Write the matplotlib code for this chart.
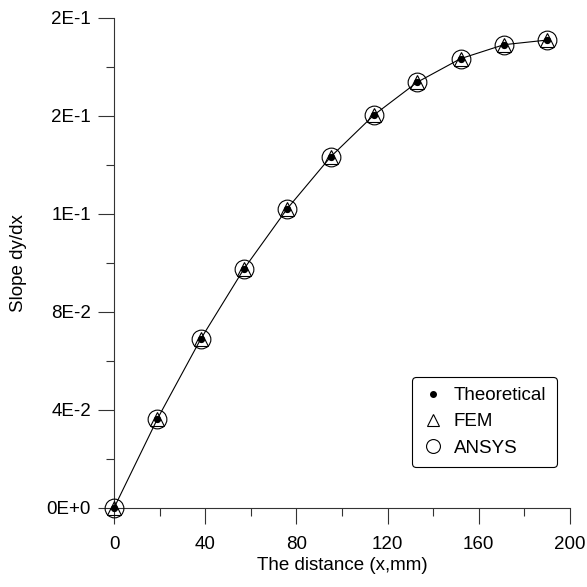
import numpy as np
import matplotlib.pyplot as plt
from matplotlib.lines import Line2D
from matplotlib.ticker import FixedLocator, MultipleLocator

plt.rcParams['font.family'] = ['Liberation Sans', 'DejaVu Sans']

# distance along the beam (mm)
x_mm = [0, 19, 38, 57, 76, 95, 114, 133, 152, 171, 190]
# slope values
theory = [0.0, 0.0363, 0.0689, 0.0976, 0.1222, 0.1433, 0.1604, 0.1738, 0.1834, 0.1891, 0.1910]
fem = [0.0, 0.0363, 0.0689, 0.0976, 0.1222, 0.1433, 0.1604, 0.1738, 0.1834, 0.1891, 0.1910]
ansys = [0.0, 0.0363, 0.0689, 0.0976, 0.1222, 0.1433, 0.1604, 0.1738, 0.1834, 0.1891, 0.1910]

x_ticks = [0, 40, 80, 120, 160, 200]
y_ticks = [0.0, 0.04, 0.08, 0.12, 0.16, 0.20]
y_tick_labels = ["0E+0", "4E-2", "8E-2", "1E-1", "2E-1", "2E-1"]

fs = 13.5

fig = plt.figure(figsize=(5.87, 5.87), dpi=100)
ax = fig.add_axes([114 / 587, 79 / 587, 456 / 587, 490 / 587])

ax.plot(x_mm, theory, color="black", lw=0.8, zorder=2)
ax.plot(x_mm, ansys, ls="none", marker="o", ms=13.5, mfc="none", mec="black", mew=0.8,
        clip_on=False, zorder=3)
ax.plot(x_mm, fem, ls="none", marker="^", ms=10, mfc="none", mec="black", mew=0.8,
        clip_on=False, zorder=3)
ax.plot(x_mm, theory, ls="none", marker="o", ms=4.2, color="black", clip_on=False, zorder=4)

ax.set_xlim(0, 200)
ax.set_ylim(0, 0.2)
ax.xaxis.set_major_locator(FixedLocator(x_ticks))
ax.xaxis.set_minor_locator(MultipleLocator(20))
ax.yaxis.set_major_locator(FixedLocator(y_ticks))
ax.yaxis.set_minor_locator(MultipleLocator(0.02))
ax.set_yticklabels(y_tick_labels)

for side in ["top", "right"]:
    ax.spines[side].set_visible(False)
for side in ["left", "bottom"]:
    ax.spines[side].set_linewidth(0.8)
    ax.spines[side].set_color("#333333")

ax.tick_params(which="major", direction="out", length=11.5, width=0.8, labelsize=fs,
               color="#333333")
ax.tick_params(which="minor", direction="out", length=5.5, width=0.8, color="#333333")
ax.tick_params(axis="y", which="major", pad=5)
ax.tick_params(axis="x", which="major", pad=8.5)

ax.set_xlabel("The distance (x,mm)", fontsize=fs, labelpad=3)
ax.set_ylabel("Slope dy/dx", fontsize=fs, labelpad=14)

handles = [
    Line2D([], [], ls="none", marker="o", ms=4, color="black"),
    Line2D([], [], ls="none", marker="^", ms=9, mfc="none", mec="black", mew=0.8),
    Line2D([], [], ls="none", marker="o", ms=10, mfc="none", mec="black", mew=0.8),
]
leg = ax.legend(handles, ["Theoretical", "FEM", "ANSYS"], loc="lower right",
                bbox_to_anchor=(0.971, 0.084), fontsize=fs, frameon=True, fancybox=True,
                edgecolor="black", framealpha=1, handletextpad=0.5, labelspacing=0.48,
                borderpad=0.55, handlelength=1.2, borderaxespad=0)
leg.get_frame().set_linewidth(0.8)

fig.savefig("out.png", dpi=100)
